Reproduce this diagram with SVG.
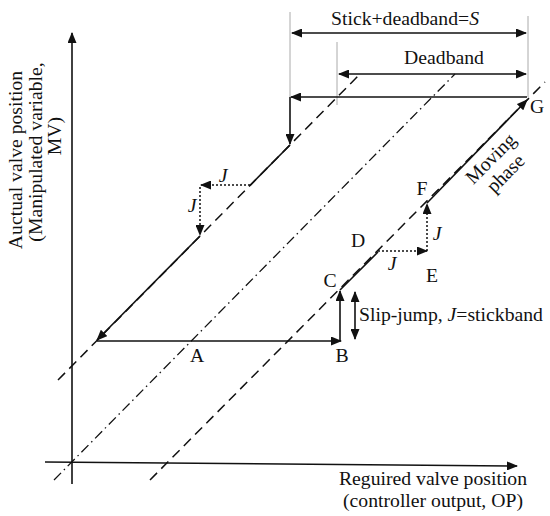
<svg xmlns="http://www.w3.org/2000/svg" width="550" height="516" viewBox="0 0 550 516">
<style>
text{font-family:"Liberation Serif","Times New Roman",serif;font-size:19.7px;fill:#111}
.it{font-style:italic}
.ln{stroke:#111;stroke-width:1.6;fill:none}
.dash{stroke:#111;stroke-width:1.5;fill:none;stroke-dasharray:10 6}
.dd{stroke:#111;stroke-width:1.3;fill:none;stroke-dasharray:10 4 1.5 4}
.dot{stroke:#111;stroke-width:1.5;fill:none;stroke-dasharray:2 2}
.guide{stroke:#aaa;stroke-width:1;fill:none}
.arr{marker-end:url(#ah)}
.arr2{marker-end:url(#ah);marker-start:url(#ah)}
</style>
<defs>
<marker id="ah" markerUnits="userSpaceOnUse" markerWidth="11" markerHeight="9" refX="10" refY="4.5" orient="auto-start-reverse">
<path d="M0,0 L11,4.5 L0,9 z" fill="#111"/>
</marker>
</defs>
<g id="axes">
<line class="ln arr" x1="72" y1="484" x2="72" y2="33"/>
<line class="ln arr" x1="45" y1="462" x2="517" y2="466"/>
</g>
<g id="reference-lines">
<line class="dd" x1="54" y1="480" x2="455" y2="74"/>
<line class="dash" x1="58" y1="380" x2="360" y2="74"/>
<line class="dash" x1="150" y1="480" x2="545" y2="82"/>
<line class="guide" x1="290" y1="12" x2="290" y2="97"/>
<line class="guide" x1="337" y1="42" x2="337" y2="105"/>
<line class="guide" x1="528" y1="16" x2="528" y2="97"/>
</g>
<g id="connectors">
<line class="ln arr2" x1="292" y1="33" x2="526" y2="33"/>
<line class="ln arr2" x1="339" y1="74" x2="526" y2="74"/>
<line class="ln arr" x1="527" y1="97" x2="291" y2="97"/>
<line class="ln arr" x1="290" y1="97" x2="290" y2="144"/>
<line class="ln" x1="290" y1="145" x2="250" y2="185.5"/>
<line class="dot arr" x1="250" y1="185" x2="201" y2="185"/>
<line class="dot arr" x1="200" y1="187" x2="200" y2="235"/>
<line class="ln arr" x1="200" y1="236" x2="97" y2="340"/>
<line class="ln arr" x1="97" y1="341" x2="341" y2="341"/>
<line class="ln arr" x1="340" y1="341" x2="340" y2="291"/>
<line class="ln arr2" x1="355" y1="292" x2="355" y2="339"/>
<line class="ln" x1="340" y1="290" x2="378" y2="252"/>
<line class="dot arr" x1="378" y1="251" x2="427" y2="251"/>
<line class="dot arr" x1="427" y1="251" x2="427" y2="204"/>
<line class="ln arr" x1="427" y1="203" x2="527" y2="100"/>
</g>
<g id="labels">
<text x="405" y="25" text-anchor="middle">Stick+deadband=<tspan class="it">S</tspan></text>
<text x="444" y="64" text-anchor="middle">Deadband</text>
<text x="537" y="113" text-anchor="middle">G</text>
<text x="422" y="195" text-anchor="middle">F</text>
<text x="432" y="282" text-anchor="middle">E</text>
<text x="358" y="247" text-anchor="middle">D</text>
<text x="330" y="287" text-anchor="middle">C</text>
<text x="342" y="362" text-anchor="middle">B</text>
<text x="197" y="362" text-anchor="middle">A</text>
<text class="it" x="223" y="182" text-anchor="middle">J</text>
<text class="it" x="192" y="212" text-anchor="middle">J</text>
<text class="it" x="392" y="270" text-anchor="middle">J</text>
<text class="it" x="437" y="240" text-anchor="middle">J</text>
<text x="359" y="321">Slip-jump, <tspan class="it">J</tspan>=stickband</text>
<g transform="translate(498,166) rotate(-45)">
<text x="0" y="-4" text-anchor="middle">Moving</text>
<text x="0" y="17" text-anchor="middle">phase</text>
</g>
<text x="433" y="485" text-anchor="middle">Reguired valve position</text>
<text x="433" y="507" text-anchor="middle">(controller output, OP)</text>
<g transform="rotate(-90)">
<text x="-160" y="22" text-anchor="middle">Auctual valve position</text>
<text x="-152" y="42" text-anchor="middle">(Manipulated variable,</text>
<text x="-136" y="61" text-anchor="middle">MV)</text>
</g>
</g>
</svg>
